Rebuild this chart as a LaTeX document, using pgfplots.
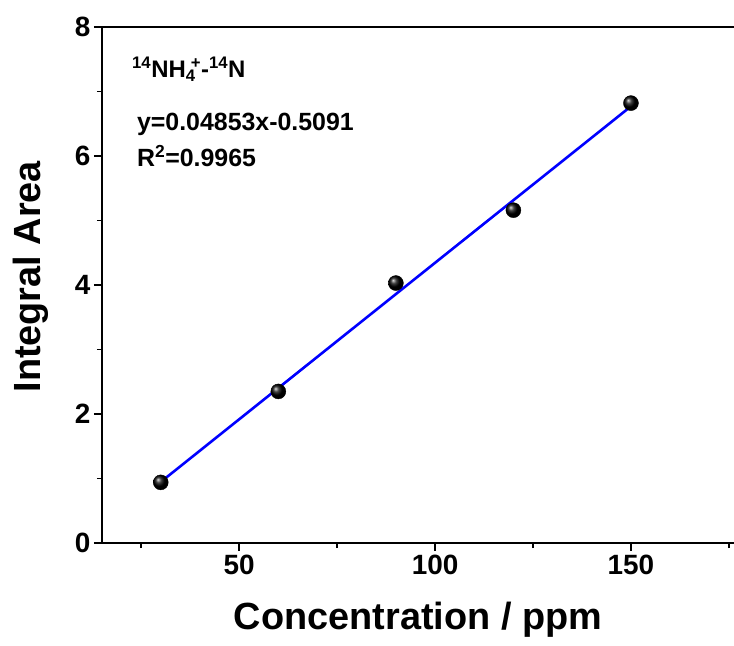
\documentclass[border=0pt]{standalone}
\usepackage{fontspec}
\setmainfont{Liberation Sans}
\usepackage{pgfplots}
\pgfplotsset{compat=1.18}
\begin{document}
\begin{tikzpicture}
\begin{axis}[
  name=ax,
  scale only axis,
  width=632bp, height=516bp,
  xmin=15, xmax=176.3,
  ymin=0, ymax=8,
  axis x line*=bottom,
  axis y line*=left,
  axis line style={line width=1.8bp, black},
  xtick={50,100,150},
  minor xtick={25,75,125,175},
  ytick={0,2,4,6,8},
  minor ytick={1,3,5,7},
  tick align=outside,
  major tick length=8bp,
  minor tick length=5bp,
  every tick/.style={line width=1.8bp, black},
  /pgf/number format/assume math mode=true,
  ticklabel style={font=\bfseries\fontsize{28}{30}\selectfont},
  xlabel={Concentration / ppm},
  ylabel={Integral Area},
  label style={font=\bfseries\fontsize{38}{40}\selectfont, inner sep=0pt},
  xlabel style={at={(axis description cs:0.5,-0.1686)}, anchor=base},
  ylabel style={at={(axis description cs:-0.098,0.516)}, anchor=base},
  clip=false,
]
\draw[line width=1.8bp] (rel axis cs:0,1) -- (rel axis cs:1,1);
\addplot[blue, line width=2.6bp, no markers] coordinates {(30,0.9468) (150,6.7704)};
\addplot[only marks, mark=ball, mark size=7.5bp, ball color=black] coordinates {
  (30,0.94) (60,2.35) (90,4.03) (120,5.16) (150,6.82)
};
\node[anchor=base west, inner sep=0pt, font=\bfseries\fontsize{24}{26}\selectfont] at (axis cs:22.65,7.21)
  {\textsuperscript{14}NH\textsubscript{4}\kern-0.2em\textsuperscript{+}-\textsuperscript{14}N};
\node[anchor=base west, inner sep=0pt, font=\bfseries\fontsize{25}{27}\selectfont] at (axis cs:23.9,6.40)
  {y=0.04853x-0.5091};
\node[anchor=base west, inner sep=0pt, font=\bfseries\fontsize{25}{27}\selectfont] at (axis cs:23.9,5.83)
  {R\textsuperscript{2}=0.9965};
\end{axis}
\pgfresetboundingbox
\path (ax.south west) ++(-102bp,-103bp) rectangle ++(734bp,646bp);
\end{tikzpicture}
\end{document}
